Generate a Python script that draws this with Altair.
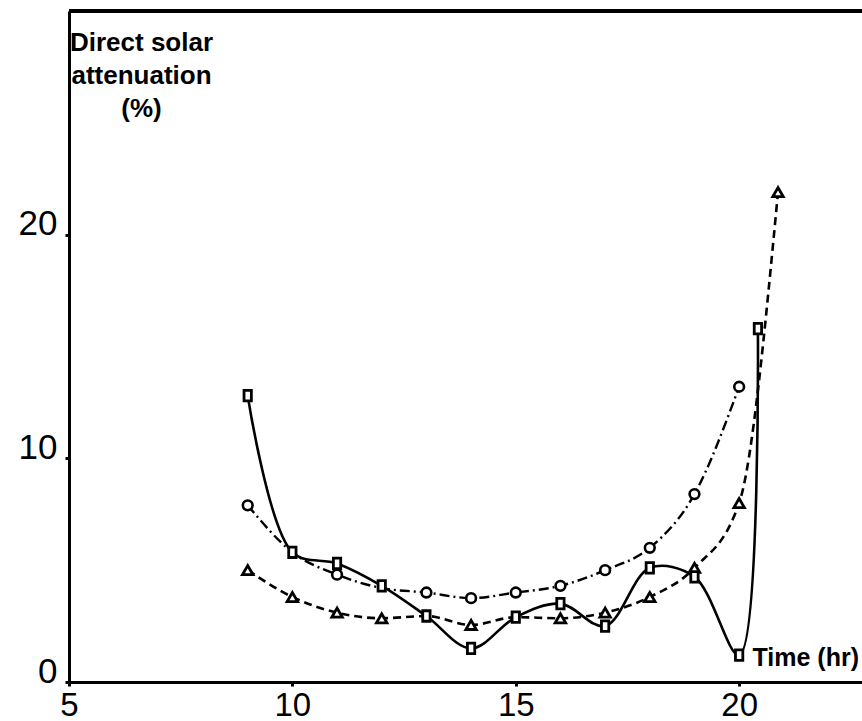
import altair as alt
import pandas as pd

# Square series (solid line)
sq_hours = [9, 10, 11, 12, 13, 14, 15, 16, 17, 18, 19, 20, 20.42]
sq_vals = [12.8, 5.8, 5.3, 4.3, 2.95, 1.5, 2.9, 3.5, 2.5, 5.1, 4.7, 1.2, 15.8]

# Circle series (dash-dot line)
ci_hours = [9, 10, 11, 12, 13, 14, 15, 16, 17, 18, 19, 20]
ci_vals = [7.9, 5.8, 4.8, 4.2, 4.0, 3.75, 4.0, 4.3, 5.0, 6.0, 8.4, 13.2]

# Triangle series (dashed line)
tr_hours = [9, 10, 11, 12, 13, 14, 15, 16, 17, 18, 19, 20, 20.87]
tr_vals = [5.0, 3.8, 3.1, 2.85, 2.95, 2.55, 2.9, 2.85, 3.1, 3.8, 5.1, 8.0, 21.9]

x_ticks = [5, 10, 15, 20]
y_ticks = [0, 10, 20]
y_title = ["Direct solar", "attenuation", "(%)"]
x_title = "Time (hr)"

sq = pd.DataFrame({"hour": sq_hours, "val": sq_vals})
ci = pd.DataFrame({"hour": ci_hours, "val": ci_vals})
tr = pd.DataFrame({"hour": tr_hours, "val": tr_vals})

sq_lookup = dict(zip(sq_hours, sq_vals))


def visible(df):
    keep = [not (h in sq_lookup and abs(sq_lookup[h] - v) < 0.3)
            for h, v in zip(df["hour"], df["val"])]
    return df[keep]


X0, X1 = 5, 22.75
xs = alt.Scale(domain=[X0, X1], nice=False, zero=False)
ys = alt.Scale(domain=[0, 30], nice=False, zero=False)

FONT = "Liberation Sans"

x_axis = alt.Axis(values=x_ticks, grid=False, title=x_title, labelFlush=False,
                  labelFont=FONT, labelFontSize=33, labelColor="black",
                  labelPadding=3, labelBaseline="top",
                  tickSize=4, tickWidth=3, tickColor="black",
                  domainColor="black", domainWidth=3,
                  titleFont=FONT, titleFontSize=25, titleFontWeight="bold",
                  titleColor="black", titleAngle=0, titleAlign="left",
                  titleBaseline="alphabetic", titleX=683, titleY=-17)

y_axis = alt.Axis(values=y_ticks, grid=False, title=y_title,
                  labelFont=FONT, labelFontSize=35, labelColor="black",
                  labelPadding=8, labelBaseline="alphabetic", labelAlign="right",
                  labelFlush=False,
                  tickSize=4, tickWidth=3, tickColor="black",
                  domainColor="black", domainWidth=3,
                  titleFont=FONT, titleFontSize=26, titleFontWeight="bold",
                  titleColor="black", titleAngle=0, titleAlign="center",
                  titleBaseline="alphabetic", titleX=72, titleY=39,
                  titleLineHeight=33)

enc_x = alt.X("hour:Q", scale=xs, axis=x_axis)
enc_y = alt.Y("val:Q", scale=ys, axis=y_axis)
enc_x_n = alt.X("hour:Q", scale=xs)
enc_y_n = alt.Y("val:Q", scale=ys)

tr_line = alt.Chart(tr).mark_line(
    color="black", strokeWidth=2.6, strokeDash=[8, 5], interpolate="monotone"
).encode(x=enc_x, y=enc_y)

ci_line = alt.Chart(ci).mark_line(
    color="black", strokeWidth=2.4, strokeDash=[10, 4, 2, 4], interpolate="monotone"
).encode(x=enc_x_n, y=enc_y_n)

sq_line = alt.Chart(sq).mark_line(
    color="black", strokeWidth=2.6, interpolate="catmull-rom"
).encode(x=enc_x_n, y=enc_y_n)

tr_pts = alt.Chart(visible(tr)).mark_point(
    shape="triangle-up", size=110, filled=True, fill="white",
    stroke="black", strokeWidth=2.8, opacity=1
).encode(x=enc_x_n, y=enc_y_n)

ci_pts = alt.Chart(visible(ci)).mark_point(
    shape="circle", size=95, filled=True, fill="white",
    stroke="black", strokeWidth=2.6, opacity=1
).encode(x=enc_x_n, y=enc_y_n)

sq_pts = alt.Chart(sq).mark_point(
    shape="M-0.7,-1L0.7,-1L0.7,1L-0.7,1Z", size=110, filled=True, fill="white",
    stroke="black", strokeWidth=2.8, opacity=1
).encode(x=enc_x_n, y=enc_y_n)

frame = pd.DataFrame({"x": [X0], "x2": [X1], "y": [30]})
top_rule = alt.Chart(frame).mark_rule(color="black", strokeWidth=4).encode(
    x=alt.X("x:Q", scale=xs), x2="x2:Q", y=alt.Y("y:Q", scale=ys)
)

chart = alt.layer(
    tr_line, ci_line, sq_line, tr_pts, ci_pts, sq_pts, top_rule
).properties(
    width=793, height=671,
    padding={"left": 69, "top": 11, "right": 0, "bottom": 39},
    autosize="none", background="white"
).configure_view(strokeWidth=0)

chart.save("out.html", embed_options={"renderer": "svg", "actions": False})
